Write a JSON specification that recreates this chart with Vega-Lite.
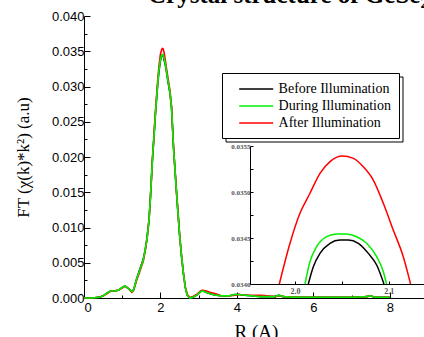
{
  "$schema": "https://vega.github.io/schema/vega-lite/v6.json",
  "autosize": "none",
  "width": 344,
  "height": 282,
  "padding": {"left": 84, "top": 16, "right": 0, "bottom": 39},
  "background": "white",
  "title": {"text": "Crystal structure of GeSe₂", "anchor": "start", "frame": "group", "dx": 64, "dy": 18, "baseline": "alphabetic", "offset": 0, "font": "Liberation Serif, Times New Roman, serif", "fontSize": 25, "fontWeight": "bold", "color": "black"},
  "config": {"view": {"stroke": null}, "axis": {"grid": false, "domainColor": "black", "tickColor": "black", "labelColor": "black", "titleColor": "black"}},
  "datasets": {
    "main": [
      {"R": 0.00, "Before Illumination": 0.0000, "During Illumination": 0.0000, "After Illumination": 0.0000},
      {"R": 0.20, "Before Illumination": 0.0000, "During Illumination": 0.0000, "After Illumination": 0.0000},
      {"R": 0.40, "Before Illumination": 0.0001, "During Illumination": 0.0001, "After Illumination": 0.0001},
      {"R": 0.50, "Before Illumination": 0.0003, "During Illumination": 0.0003, "After Illumination": 0.0003},
      {"R": 0.60, "Before Illumination": 0.0007, "During Illumination": 0.0007, "After Illumination": 0.0006},
      {"R": 0.70, "Before Illumination": 0.0010, "During Illumination": 0.0010, "After Illumination": 0.0010},
      {"R": 0.80, "Before Illumination": 0.0010, "During Illumination": 0.0010, "After Illumination": 0.0010},
      {"R": 0.90, "Before Illumination": 0.0011, "During Illumination": 0.0011, "After Illumination": 0.0011},
      {"R": 1.00, "Before Illumination": 0.0015, "During Illumination": 0.0015, "After Illumination": 0.0014},
      {"R": 1.07, "Before Illumination": 0.0017, "During Illumination": 0.0017, "After Illumination": 0.0017},
      {"R": 1.15, "Before Illumination": 0.0014, "During Illumination": 0.0014, "After Illumination": 0.0014},
      {"R": 1.25, "Before Illumination": 0.0009, "During Illumination": 0.0009, "After Illumination": 0.0008},
      {"R": 1.30, "Before Illumination": 0.0012, "During Illumination": 0.0012, "After Illumination": 0.0011},
      {"R": 1.37, "Before Illumination": 0.0026, "During Illumination": 0.0026, "After Illumination": 0.0024},
      {"R": 1.45, "Before Illumination": 0.0039, "During Illumination": 0.0038, "After Illumination": 0.0036},
      {"R": 1.55, "Before Illumination": 0.0055, "During Illumination": 0.0054, "After Illumination": 0.0052},
      {"R": 1.60, "Before Illumination": 0.0068, "During Illumination": 0.0068, "After Illumination": 0.0066},
      {"R": 1.65, "Before Illumination": 0.0086, "During Illumination": 0.0085, "After Illumination": 0.0084},
      {"R": 1.70, "Before Illumination": 0.0111, "During Illumination": 0.0110, "After Illumination": 0.0109},
      {"R": 1.73, "Before Illumination": 0.0135, "During Illumination": 0.0135, "After Illumination": 0.0134},
      {"R": 1.76, "Before Illumination": 0.0165, "During Illumination": 0.0165, "After Illumination": 0.0165},
      {"R": 1.79, "Before Illumination": 0.0196, "During Illumination": 0.0196, "After Illumination": 0.0197},
      {"R": 1.83, "Before Illumination": 0.0228, "During Illumination": 0.0228, "After Illumination": 0.0230},
      {"R": 1.86, "Before Illumination": 0.0254, "During Illumination": 0.0255, "After Illumination": 0.0258},
      {"R": 1.90, "Before Illumination": 0.0283, "During Illumination": 0.0284, "After Illumination": 0.0288},
      {"R": 1.93, "Before Illumination": 0.0304, "During Illumination": 0.0305, "After Illumination": 0.0310},
      {"R": 1.96, "Before Illumination": 0.0321, "During Illumination": 0.0323, "After Illumination": 0.0328},
      {"R": 2.00, "Before Illumination": 0.0337, "During Illumination": 0.0338, "After Illumination": 0.0346},
      {"R": 2.03, "Before Illumination": 0.03433, "During Illumination": 0.03440, "After Illumination": 0.03520},
      {"R": 2.05, "Before Illumination": 0.03448, "During Illumination": 0.03455, "After Illumination": 0.03539},
      {"R": 2.07, "Before Illumination": 0.03444, "During Illumination": 0.03450, "After Illumination": 0.03535},
      {"R": 2.10, "Before Illumination": 0.0337, "During Illumination": 0.0339, "After Illumination": 0.0347},
      {"R": 2.13, "Before Illumination": 0.0330, "During Illumination": 0.0331, "After Illumination": 0.0336},
      {"R": 2.16, "Before Illumination": 0.0320, "During Illumination": 0.0321, "After Illumination": 0.0325},
      {"R": 2.20, "Before Illumination": 0.0306, "During Illumination": 0.0307, "After Illumination": 0.0311},
      {"R": 2.25, "Before Illumination": 0.0290, "During Illumination": 0.0291, "After Illumination": 0.0294},
      {"R": 2.29, "Before Illumination": 0.0270, "During Illumination": 0.0270, "After Illumination": 0.0272},
      {"R": 2.34, "Before Illumination": 0.0215, "During Illumination": 0.0215, "After Illumination": 0.0217},
      {"R": 2.38, "Before Illumination": 0.0182, "During Illumination": 0.0182, "After Illumination": 0.0183},
      {"R": 2.42, "Before Illumination": 0.0150, "During Illumination": 0.0150, "After Illumination": 0.0151},
      {"R": 2.46, "Before Illumination": 0.0120, "During Illumination": 0.0120, "After Illumination": 0.0121},
      {"R": 2.50, "Before Illumination": 0.0090, "During Illumination": 0.0090, "After Illumination": 0.0091},
      {"R": 2.55, "Before Illumination": 0.0060, "During Illumination": 0.0060, "After Illumination": 0.0061},
      {"R": 2.60, "Before Illumination": 0.0035, "During Illumination": 0.0035, "After Illumination": 0.0036},
      {"R": 2.65, "Before Illumination": 0.0015, "During Illumination": 0.0015, "After Illumination": 0.0016},
      {"R": 2.70, "Before Illumination": 0.0004, "During Illumination": 0.0004, "After Illumination": 0.0005},
      {"R": 2.77, "Before Illumination": 0.0000, "During Illumination": 0.0000, "After Illumination": 0.0001},
      {"R": 2.85, "Before Illumination": 0.0001, "During Illumination": 0.0001, "After Illumination": 0.0002},
      {"R": 2.95, "Before Illumination": 0.0004, "During Illumination": 0.0004, "After Illumination": 0.0005},
      {"R": 3.05, "Before Illumination": 0.0009, "During Illumination": 0.0009, "After Illumination": 0.0010},
      {"R": 3.10, "Before Illumination": 0.0010, "During Illumination": 0.0010, "After Illumination": 0.0011},
      {"R": 3.20, "Before Illumination": 0.0008, "During Illumination": 0.0008, "After Illumination": 0.0010},
      {"R": 3.30, "Before Illumination": 0.0006, "During Illumination": 0.0006, "After Illumination": 0.0008},
      {"R": 3.45, "Before Illumination": 0.0004, "During Illumination": 0.0004, "After Illumination": 0.0006},
      {"R": 3.60, "Before Illumination": 0.0003, "During Illumination": 0.0003, "After Illumination": 0.0003},
      {"R": 3.80, "Before Illumination": 0.0003, "During Illumination": 0.0003, "After Illumination": 0.0003},
      {"R": 3.95, "Before Illumination": 0.0005, "During Illumination": 0.0005, "After Illumination": 0.0004},
      {"R": 4.05, "Before Illumination": 0.0005, "During Illumination": 0.0005, "After Illumination": 0.0005},
      {"R": 4.20, "Before Illumination": 0.0004, "During Illumination": 0.0004, "After Illumination": 0.0004},
      {"R": 4.40, "Before Illumination": 0.0003, "During Illumination": 0.0003, "After Illumination": 0.0004},
      {"R": 4.60, "Before Illumination": 0.0002, "During Illumination": 0.0002, "After Illumination": 0.0004},
      {"R": 4.80, "Before Illumination": 0.0002, "During Illumination": 0.0002, "After Illumination": 0.0003},
      {"R": 5.00, "Before Illumination": 0.0002, "During Illumination": 0.0002, "After Illumination": 0.0002},
      {"R": 5.10, "Before Illumination": 0.0004, "During Illumination": 0.0004, "After Illumination": 0.0003},
      {"R": 5.20, "Before Illumination": 0.0002, "During Illumination": 0.0002, "After Illumination": 0.0002},
      {"R": 5.50, "Before Illumination": 0.0001, "During Illumination": 0.0001, "After Illumination": 0.0001},
      {"R": 6.00, "Before Illumination": 0.0001, "During Illumination": 0.0001, "After Illumination": 0.0001},
      {"R": 6.50, "Before Illumination": 0.0001, "During Illumination": 0.0001, "After Illumination": 0.0001},
      {"R": 7.00, "Before Illumination": 0.0001, "During Illumination": 0.0001, "After Illumination": 0.0001},
      {"R": 7.40, "Before Illumination": 0.0002, "During Illumination": 0.0002, "After Illumination": 0.0002},
      {"R": 7.50, "Before Illumination": 0.0003, "During Illumination": 0.0003, "After Illumination": 0.0003},
      {"R": 7.60, "Before Illumination": 0.0001, "During Illumination": 0.0001, "After Illumination": 0.0001},
      {"R": 8.00, "Before Illumination": 0.0001, "During Illumination": 0.0001, "After Illumination": 0.0001}
    ],
    "inset": [
      {"series": "Before Illumination", "ix": 2.0142, "iv": 0.03400},
      {"series": "Before Illumination", "ix": 2.0196, "iv": 0.034188},
      {"series": "Before Illumination", "ix": 2.0267, "iv": 0.034333},
      {"series": "Before Illumination", "ix": 2.0374, "iv": 0.034442},
      {"series": "Before Illumination", "ix": 2.0480, "iv": 0.034478},
      {"series": "Before Illumination", "ix": 2.0569, "iv": 0.034478},
      {"series": "Before Illumination", "ix": 2.0676, "iv": 0.034442},
      {"series": "Before Illumination", "ix": 2.0783, "iv": 0.034333},
      {"series": "Before Illumination", "ix": 2.0872, "iv": 0.034207},
      {"series": "Before Illumination", "ix": 2.0950, "iv": 0.03400},
      {"series": "After Illumination", "ix": 1.9833, "iv": 0.03400},
      {"series": "After Illumination", "ix": 1.9947, "iv": 0.034442},
      {"series": "After Illumination", "ix": 2.0053, "iv": 0.034768},
      {"series": "After Illumination", "ix": 2.0160, "iv": 0.034986},
      {"series": "After Illumination", "ix": 2.0267, "iv": 0.035203},
      {"series": "After Illumination", "ix": 2.0374, "iv": 0.035330},
      {"series": "After Illumination", "ix": 2.0505, "iv": 0.035391},
      {"series": "After Illumination", "ix": 2.0623, "iv": 0.035366},
      {"series": "After Illumination", "ix": 2.0729, "iv": 0.035275},
      {"series": "After Illumination", "ix": 2.0836, "iv": 0.035130},
      {"series": "After Illumination", "ix": 2.0943, "iv": 0.034877},
      {"series": "After Illumination", "ix": 2.1049, "iv": 0.034587},
      {"series": "After Illumination", "ix": 2.1156, "iv": 0.034297},
      {"series": "After Illumination", "ix": 2.1234, "iv": 0.03400},
      {"series": "During Illumination", "ix": 2.0107, "iv": 0.03400},
      {"series": "During Illumination", "ix": 2.0160, "iv": 0.034243},
      {"series": "During Illumination", "ix": 2.0231, "iv": 0.034406},
      {"series": "During Illumination", "ix": 2.0338, "iv": 0.034514},
      {"series": "During Illumination", "ix": 2.0445, "iv": 0.034543},
      {"series": "During Illumination", "ix": 2.0551, "iv": 0.034543},
      {"series": "During Illumination", "ix": 2.0658, "iv": 0.034514},
      {"series": "During Illumination", "ix": 2.0765, "iv": 0.034442},
      {"series": "During Illumination", "ix": 2.0872, "iv": 0.034297},
      {"series": "During Illumination", "ix": 2.0943, "iv": 0.034134},
      {"series": "During Illumination", "ix": 2.0978, "iv": 0.03400}
    ]
  },
  "layer": [
    {
      "data": {"name": "main"},
      "transform": [{"fold": ["Before Illumination", "After Illumination", "During Illumination"], "as": ["series", "v"]}],
      "mark": {"type": "line", "strokeWidth": 1.6, "interpolate": "linear"},
      "encoding": {
        "x": {"field": "R", "type": "quantitative", "scale": {"domain": [0, 9], "nice": false, "zero": false},
          "axis": {"title": "R (A)", "values": [0, 1, 2, 3, 4, 5, 6, 7, 8], "labelExpr": "datum.value % 2 === 0 ? datum.label : ''",
            "tickSize": {"condition": {"test": "datum.value % 2 === 0", "value": -6}, "value": -3},
            "labelFont": "Liberation Sans, Arial, sans-serif", "labelFontSize": 13, "labelPadding": 9, "domainWidth": 1.2,
            "titleFont": "Liberation Serif, Times New Roman, serif", "titleFontSize": 19, "titleFontWeight": "normal", "titlePadding": 8}},
        "y": {"field": "v", "type": "quantitative", "scale": {"domain": [0, 0.04], "nice": false, "zero": false},
          "axis": {"title": "FT (χ(k)*k²) (a.u)", "values": [0, 0.0025, 0.005, 0.0075, 0.01, 0.0125, 0.015, 0.0175, 0.02, 0.0225, 0.025, 0.0275, 0.03, 0.0325, 0.035, 0.0375, 0.04],
            "labelExpr": "abs(datum.value*200 - round(datum.value*200)) < 0.000001 ? format(datum.value, '.3f') : ''",
            "tickSize": {"condition": {"test": "abs(datum.value*200 - round(datum.value*200)) < 0.000001", "value": -6}, "value": -3},
            "labelFont": "Liberation Sans, Arial, sans-serif", "labelFontSize": 13, "labelPadding": 6,
            "titleFont": "Liberation Serif, Times New Roman, serif", "titleFontSize": 17, "titleFontWeight": "normal", "titlePadding": 19}},
        "color": {"field": "series", "type": "nominal",
          "scale": {"domain": ["Before Illumination", "During Illumination", "After Illumination"], "range": ["#000000", "#00f000", "#ff0000"]},
          "legend": {"orient": "none", "legendX": 138, "legendY": 57, "title": null, "padding": 8, "strokeColor": "black", "fillColor": "white",
            "symbolType": "M-2.5,0H2.5", "symbolSize": 185, "symbolStrokeWidth": 1.5, "symbolOffset": 18.2, "labelOffset": 14.4,
            "labelFont": "Liberation Serif, Times New Roman, serif", "labelFontSize": 14, "labelColor": "black", "rowPadding": 2, "labelLimit": 300, "zindex": 2}},
        "strokeDash": {"field": "series", "type": "nominal",
          "scale": {"range": [[1, 0], [1, 0], [1, 0]]},
          "legend": {"orient": "none", "legendX": 141.5, "legendY": 60.5, "title": null, "padding": 8, "strokeColor": "black", "fillColor": "white",
            "symbolType": "M-2.5,0H2.5", "symbolSize": 185, "symbolStrokeWidth": 1.5, "symbolOffset": 18.2, "labelOffset": 14.4, "symbolOpacity": 0, "labelOpacity": 0,
            "labelFont": "Liberation Serif, Times New Roman, serif", "labelFontSize": 14, "rowPadding": 2, "labelLimit": 300, "zindex": 1}}
      }
    },
    {
      "data": {"name": "inset"},
      "mark": {"type": "line", "strokeWidth": 1.5, "interpolate": "monotone"},
      "encoding": {
        "x": {"field": "ix", "type": "quantitative", "scale": {"domain": [1.952, 2.15], "range": [166, 351.5], "nice": false, "zero": false},
          "axis": {"orient": "bottom", "offset": -14, "title": null, "values": [2.0, 2.05, 2.1],
            "labelExpr": "abs(datum.value*10 - round(datum.value*10)) < 0.000001 ? format(datum.value, '.1f') : ''",
            "tickSize": -3, "labelPadding": 6, "labelFont": "Liberation Serif, Times New Roman, serif", "labelFontSize": 8, "labelFontWeight": "bold", "labelColor": "#555555"}},
        "y": {"field": "iv", "type": "quantitative", "scale": {"domain": [0.034, 0.0355], "range": [268, 130], "nice": false, "zero": false},
          "axis": {"orient": "left", "offset": -166, "title": null, "values": [0.034, 0.03425, 0.0345, 0.03475, 0.035, 0.03525, 0.0355],
            "labelExpr": "abs(datum.value*2000 - round(datum.value*2000)) < 0.000001 ? format(datum.value, '.4f') : ''",
            "tickSize": -3, "labelPadding": 3, "labelFont": "Liberation Serif, Times New Roman, serif", "labelFontSize": 7, "labelFontWeight": "bold", "labelColor": "#555555"}},
        "color": {"field": "series", "type": "nominal"}
      }
    }
  ],
  "resolve": {"scale": {"x": "independent", "y": "independent"}}
}
